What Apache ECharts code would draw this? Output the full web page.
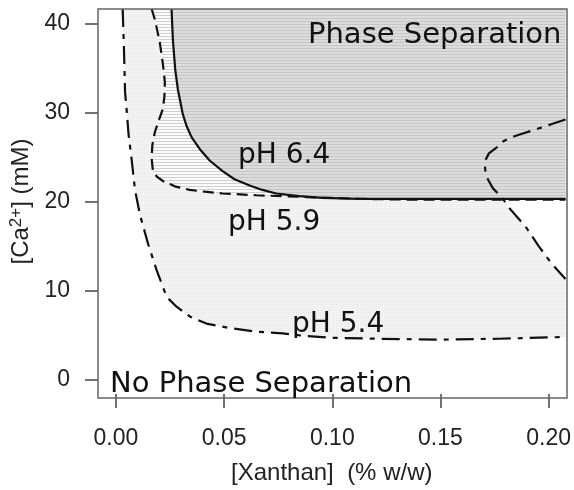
<!DOCTYPE html>
<html><head><meta charset="utf-8">
<script src="https://cdn.jsdelivr.net/npm/echarts@6/dist/echarts.min.js"></script>
<style>html,body{margin:0;padding:0;background:#fff}#c{width:574px;height:490px}</style>
</head><body><div id="c"></div>
<script>
// ---- data ----
const xTicks = [0, 0.05, 0.10, 0.15, 0.20];
const yTicks = [0, 10, 20, 30, 40];

// pH 6.4 boundary (solid)
const ph64X = [0.0257,0.0263,0.0274,0.0286,0.0295,0.0309,0.0326,0.0350,0.0387,0.0433,0.0493,0.0548,0.0618,0.0677,0.0741,0.0848,0.0954,0.1124,0.1309,0.2078];
const ph64Y = [41.6,38.2,34.8,32.6,31.5,29.8,28.5,27.2,25.9,24.6,23.4,22.5,21.8,21.3,20.9,20.6,20.4,20.3,20.3,20.3];

// pH 5.9 boundary (dashed)
const ph59X = [0.0165,0.0180,0.0203,0.0217,0.0226,0.0224,0.0217,0.0198,0.0180,0.0168,0.0165,0.0171,0.0189,0.0217,0.0272,0.0341,0.0410,0.0493,0.0650,0.0880,0.1124,0.1401,0.2078];
const ph59Y = [41.6,40.4,37.8,35.4,33.4,31.8,30.4,29.1,27.8,26.3,24.8,23.4,22.8,22.3,21.7,21.3,21.1,20.9,20.7,20.5,20.3,20.2,20.2];

// pH 5.4 boundary (dash-dot), main branch
const ph54X = [0.0031,0.0037,0.0042,0.0049,0.0058,0.0072,0.0088,0.0111,0.0149,0.0188,0.0234,0.0280,0.0341,0.0418,0.0525,0.0648,0.0771,0.0879,0.1001,0.1217,0.1493,0.1770,0.2078];
const ph54Y = [41.6,37.1,32.3,30.4,27.6,24.8,21.3,18.5,15.2,12.3,9.3,8.2,7.1,6.3,5.8,5.4,5.2,4.9,4.7,4.6,4.5,4.6,4.8];

// pH 5.4 boundary (dash-dot), right-hand branch
const ph54bX = [0.2078,0.2015,0.1954,0.1877,0.1839,0.1793,0.1762,0.1724,0.1705,0.1707,0.1719,0.1742,0.1785,0.1824,0.1893,0.1954,0.2015,0.2078];
const ph54bY = [29.2,28.7,28.2,27.6,27.3,26.8,26.1,25.4,24.5,23.5,22.5,21.5,20.4,19.1,17.2,15.0,13.0,11.3];

// ---- setup ----
const X_MIN = -0.0083, X_MAX = 0.2078, Y_MIN = -1.6, Y_MAX = 41.6;
const pairs = (xs, ys) => xs.map((x, i) => [x, ys[i]]);

function makePattern(w, h, bg, draw) {
  const c = document.createElement('canvas');
  c.width = w; c.height = h;
  const g = c.getContext('2d');
  g.fillStyle = bg; g.fillRect(0, 0, w, h);
  draw(g);
  return { type: 'pattern', image: c, repeat: 'repeat' };
}
const lightFill = makePattern(2, 2, '#f4f4f4', g => { g.fillStyle = '#e6e6e6'; g.fillRect(0, 0, 1, 1); });
const hatchFill = makePattern(4, 3, '#fbfbfb', g => { g.fillStyle = '#cfcfcf'; g.fillRect(0, 0, 4, 1); });
const darkFill = makePattern(4, 3, '#dadada', g => { g.fillStyle = '#c6c6c6'; g.fillRect(0, 0, 4, 1); g.fillStyle='#e2e2e2'; g.fillRect(1,2,1,1); g.fillRect(3,1,1,1); });

// regions
const branchLow = pairs(ph54bX, ph54bY).filter(p => p[1] < 20.5).reverse();
const lightPoly = pairs(ph54X, ph54Y).concat(branchLow).concat([[branchLow[branchLow.length - 1][0], Y_MAX]]);
const hatchPoly = pairs(ph59X, ph59Y).concat([[X_MAX, Y_MAX]]);
const darkPoly = pairs(ph64X, ph64Y).concat([[X_MAX, Y_MAX]]);

function region(points, fill) {
  return {
    type: 'custom', coordinateSystem: 'cartesian2d', data: [[points[0][0], points[0][1]]], silent: true, z: 1,
    renderItem: (params, api) => ({
      type: 'polygon',
      shape: { points: points.map(p => api.coord(p)) },
      style: { fill: fill, stroke: null }
    })
  };
}
function curve(xs, ys, dash) {
  return {
    type: 'line', data: pairs(xs, ys), symbol: 'none', silent: true, z: 5, smooth: false,
    lineStyle: { color: '#111', width: 2.2, type: dash, cap: 'butt' }
  };
}

const GL = 98, GT = 9, GW = 469, GH = 389;
const big = { fontFamily: 'DejaVu Sans', fontSize: 29, fill: '#111' };
const mid = { fontFamily: 'DejaVu Sans', fontSize: 28, fill: '#111' };

const chart = echarts.init(document.getElementById('c'), null, { renderer: 'canvas' });
chart.setOption({
  animation: false,
  grid: { left: GL, top: GT, width: GW, height: GH, show: true, backgroundColor: '#fff', borderWidth: 0 },
  xAxis: {
    type: 'value', min: X_MIN, max: X_MAX,
    name: '[Xanthan]  (% w/w)', nameLocation: 'middle', nameGap: 67,
    nameTextStyle: { fontFamily: 'Liberation Sans', fontSize: 24, color: '#222' },
    axisLine: { show: false, onZero: false }, splitLine: { show: false },
    axisTick: { show: true, inside: false, length: 14, customValues: xTicks, lineStyle: { color: '#444', width: 1.5 } },
    axisLabel: { customValues: xTicks, margin: 33, fontFamily: 'Liberation Sans', fontSize: 23, color: '#222',
      formatter: v => v.toFixed(2) }
  },
  yAxis: {
    type: 'value', min: Y_MIN, max: Y_MAX,
    name: '[Ca{sup|2+}] (mM)', nameLocation: 'middle', nameGap: 54, nameRotate: 90,
    nameTextStyle: { fontFamily: 'Liberation Sans', fontSize: 24, color: '#222',
      rich: { sup: { fontFamily: 'Liberation Sans', fontSize: 17, color: '#222', verticalAlign: 'top', padding: [0, 0, 10, 0] } } },
    axisLine: { show: false, onZero: false }, splitLine: { show: false },
    axisTick: { show: true, inside: false, length: 13, customValues: yTicks, lineStyle: { color: '#444', width: 1.5 } },
    axisLabel: { customValues: yTicks, margin: 28, fontFamily: 'Liberation Sans', fontSize: 23, color: '#222' }
  },
  series: [
    region(lightPoly, lightFill),
    region(hatchPoly, hatchFill),
    region(darkPoly, darkFill),
    curve(ph54X, ph54Y, [18, 7, 5, 7]),
    curve(ph54bX, ph54bY, [18, 7, 5, 7]),
    curve(ph59X, ph59Y, [11, 6]),
    curve(ph64X, ph64Y, 'solid')
  ],
  graphic: [
    { type: 'rect', z: 100, silent: true, shape: { x: GL, y: GT, width: GW, height: GH },
      style: { fill: null, stroke: '#666', lineWidth: 1.5 } },
    { type: 'text', z: 100, x: 308, y: 35, style: Object.assign({ text: 'Phase Separation', verticalAlign: 'middle' }, big) },
    { type: 'text', z: 100, x: 110, y: 384, style: Object.assign({ text: 'No Phase Separation', verticalAlign: 'middle' }, big) },
    { type: 'text', z: 100, x: 238, y: 156, style: Object.assign({ text: 'pH 6.4', verticalAlign: 'middle' }, mid) },
    { type: 'text', z: 100, x: 228, y: 223, style: Object.assign({ text: 'pH 5.9', verticalAlign: 'middle' }, mid) },
    { type: 'text', z: 100, x: 292, y: 325, style: Object.assign({ text: 'pH 5.4', verticalAlign: 'middle' }, mid) }
  ]
});
</script>
</body></html>
